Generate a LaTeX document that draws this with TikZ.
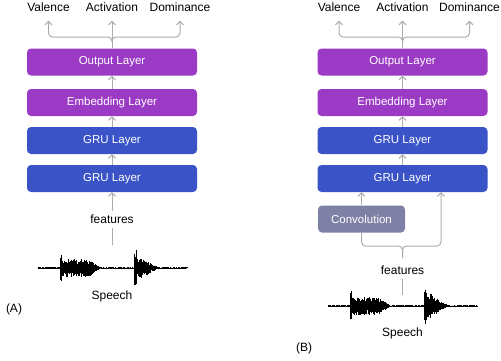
\documentclass[tikz,border=0pt]{standalone}
\usepackage{fontspec}
\setmainfont{Liberation Sans}
\usetikzlibrary{arrows.meta,calc}
\definecolor{purp}{RGB}{155,58,196}
\definecolor{gblue}{RGB}{58,84,200}
\definecolor{convc}{RGB}{126,128,165}
\definecolor{lgray}{RGB}{172,172,172}
\tikzset{
  layer/.style={draw=none, rounded corners=4pt, minimum width=170pt, minimum height=27pt, text=white, font=\fontsize{11.5}{13}\selectfont, inner sep=0pt},
  outlayer/.style={layer, fill=purp},
  grulayer/.style={layer, fill=gblue},
  convlayer/.style={layer, fill=convc, minimum width=87pt},
  lbl/.style={font=\fontsize{12}{14}\selectfont, inner sep=0pt, text=black},
  arr/.style={draw=lgray, line width=1pt, -{Straight Barb[length=3.5pt,width=7pt,line width=1pt]}},
  ln/.style={draw=lgray, line width=1pt},
}
% waveform: #1 left x, #2 centre y
\newcommand{\mywave}[2]{%
  \draw[black!70, line width=0.5pt] (#1,#2) -- ++(149,0);
  \foreach \r in {0,0.5,...,149}{%
    \pgfmathsetmacro\env{(\r>=22)*(\r<24)*15 + (\r>=24)*(\r<50)*8.5 + (\r>=50)*(\r<62)*(0.7*(62-\r)) + (\r>=96)*(\r<99)*18 + (\r>=99)*(\r<104)*12 + (\r>=104)*(\r<120)*(0.6*(120-\r)) + 0.7}
    \pgfmathsetmacro\up{\env*(0.4+0.6*rnd)}
    \pgfmathsetmacro\dn{\env*(0.4+0.6*rnd)}
    \draw[black, line width=0.6pt] (#1+\r,#2-\up) -- (#1+\r,#2+\dn);
  }%
}
\begin{document}
\begin{tikzpicture}[x=1pt,y=-1pt]
\pgfmathsetseed{7}
\useasboundingbox (0,0) rectangle (501,360);

% ---------------- Panel A ----------------
\node[outlayer] (aout) at (112,62) {Output Layer};
\node[outlayer] (aemb) at (112,102.5) {Embedding Layer};
\node[grulayer] (agru1) at (112,140.5) {GRU Layer};
\node[grulayer] (agru2) at (112,178.5) {GRU Layer};

\node[lbl] (aval) at (48.5,7) {Valence};
\node[lbl] (aact) at (112,7) {Activation};
\node[lbl] (adom) at (180,7) {Dominance};

\coordinate (aj) at (112,37);
\draw[arr] (aout.north) -- ($(aact.south)+(0,9)$);
\draw[arr, rounded corners=4pt] ($(aj)+(0,5)$) -- (aj) -| ($(aval.south)+(0,9)$);
\draw[arr, rounded corners=4pt] ($(aj)+(0,5)$) -- (aj) -| ($(adom.south)+(0,9)$);

\draw[arr] (aemb.north) -- (aout.south);
\draw[arr] (agru1.north) -- (aemb.south);
\draw[arr] (agru2.north) -- (agru1.south);

\node[lbl] (afeat) at (112,219) {features};
\draw[arr] ($(afeat.north)+(0,-3)$) -- (agru2.south);
\coordinate (awtop) at (112,245);
\draw[ln] (awtop) -- ($(afeat.south)+(0,4)$);

\mywave{38}{268}
\node[lbl] (asp) at (112,296) {Speech};
\node[lbl] (alabA) at (14,309) {(A)};

% ---------------- Panel B ----------------
\node[outlayer] (bout) at (402.5,62) {Output Layer};
\node[outlayer] (bemb) at (402.5,102.5) {Embedding Layer};
\node[grulayer] (bgru1) at (402.5,140.5) {GRU Layer};
\node[grulayer] (bgru2) at (402.5,178.5) {GRU Layer};
\node[convlayer] (bconv) at (361.5,219) {Convolution};

\node[lbl] (bval) at (339,7) {Valence};
\node[lbl] (bact) at (402.5,7) {Activation};
\node[lbl] (bdom) at (469.5,7) {Dominance};

\coordinate (bj) at (402.5,37);
\draw[arr] (bout.north) -- ($(bact.south)+(0,9)$);
\draw[arr, rounded corners=4pt] ($(bj)+(0,5)$) -- (bj) -| ($(bval.south)+(0,9)$);
\draw[arr, rounded corners=4pt] ($(bj)+(0,5)$) -- (bj) -| ($(bdom.south)+(0,9)$);

\draw[arr] (bemb.north) -- (bout.south);
\draw[arr] (bgru1.north) -- (bemb.south);
\draw[arr] (bgru2.north) -- (bgru1.south);

\draw[arr] (bconv.north) -- (bconv.north |- bgru2.south);
\coordinate (bk) at (402.5,246);
\coordinate (bright) at (441,192);
\draw[ln, rounded corners=4pt] ($(bk)+(0,12)$) -- (bk) -| (bconv.south);
\draw[arr, rounded corners=4pt] ($(bk)+(0,12)$) -- (bk) -| (bright |- bgru2.south);

\node[lbl] (bfeat) at (402.5,270) {features};
\coordinate (bwtop) at (402.5,295);
\draw[ln] (bwtop) -- ($(bfeat.south)+(0,4)$);

\mywave{328}{306}
\node[lbl] (bsp) at (402.5,333) {Speech};
\node[lbl] (blabB) at (304,348) {(B)};
\end{tikzpicture}
\end{document}
